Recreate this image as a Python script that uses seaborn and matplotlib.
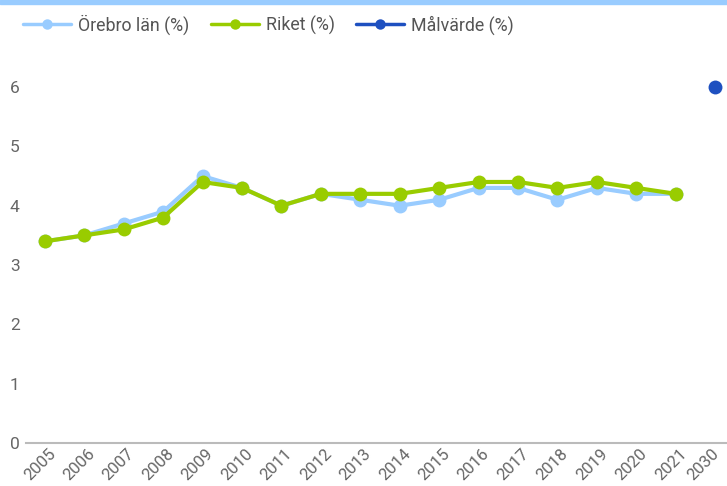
import pandas as pd
import matplotlib
matplotlib.use('Agg')
import matplotlib.pyplot as plt
import matplotlib.transforms as mtransforms
from matplotlib.patches import Rectangle
import seaborn as sns

# Data
years = ['2005', '2006', '2007', '2008', '2009', '2010', '2011', '2012', '2013',
         '2014', '2015', '2016', '2017', '2018', '2019', '2020', '2021']
orebro = [3.4, 3.5, 3.7, 3.9, 4.5, 4.3, 4.0, 4.2, 4.1,
          4.0, 4.1, 4.3, 4.3, 4.1, 4.3, 4.2, 4.2]
riket = [3.4, 3.5, 3.6, 3.8, 4.4, 4.3, 4.0, 4.2, 4.2,
         4.2, 4.3, 4.4, 4.4, 4.3, 4.4, 4.3, 4.2]
target_years = ['2030']
target = [6]

C_OREBRO = '#99ccff'
C_RIKET = '#99cc00'
C_TARGET = '#1e50c0'

sns.set_theme(style='white')
plt.rcParams['font.family'] = ['Roboto', 'DejaVu Sans']

fig = plt.figure(figsize=(7.27, 4.86), dpi=100)
ax = fig.add_axes([26 / 727, 43 / 486, 1 - 26 / 727, 385.6 / 486])

df_o = pd.DataFrame({'year': years, 'value': orebro})
df_r = pd.DataFrame({'year': years, 'value': riket})
df_t = pd.DataFrame({'year': target_years, 'value': target})

sns.lineplot(data=df_o, x='year', y='value', ax=ax, color=C_OREBRO, lw=3,
             marker='o', markersize=10, markeredgewidth=0, label='Örebro län (%)')
sns.lineplot(data=df_r, x='year', y='value', ax=ax, color=C_RIKET, lw=3,
             marker='o', markersize=10, markeredgewidth=0, label='Riket (%)')
sns.lineplot(data=df_t, x='year', y='value', ax=ax, color=C_TARGET, lw=3,
             marker='o', markersize=10, markeredgewidth=0, label='Målvärde (%)')

ax.set_xlim(-0.48, 17.3)
ax.set_ylim(0, 6.5)
ax.set_yticks([0, 1, 2, 3, 4, 5, 6])
ax.set_xlabel('')
ax.set_ylabel('')
for s in ['top', 'right', 'left']:
    ax.spines[s].set_visible(False)
ax.spines['bottom'].set_color('#bbbbbb')
ax.spines['bottom'].set_linewidth(1.5)
ax.tick_params(axis='both', length=0, colors='#666666', labelsize=12.5)
ax.tick_params(axis='y', pad=4.5)
ax.tick_params(axis='x', pad=2, labelsize=12)
xlabels = ax.get_xticklabels()
for i, lab in enumerate(xlabels):
    dx = 3 if i < len(xlabels) - 1 else -4  # keep the last one inside the canvas
    shift = mtransforms.ScaledTranslation(dx / 100, 0, fig.dpi_scale_trans)
    lab.set_rotation(45)
    lab.set_ha('right')
    lab.set_rotation_mode('anchor')
    lab.set_transform(lab.get_transform() + shift)

leg = ax.legend(loc='center left', bbox_to_anchor=(23 / 727, 1 - 24.5 / 486),
                bbox_transform=fig.transFigure, ncol=3, frameon=False,
                fontsize=12.8, handlelength=2.7, columnspacing=1.2,
                handletextpad=0.4, borderaxespad=0, borderpad=0,
                markerscale=0.75)
for t in leg.get_texts():
    t.set_color('#555555')
for h in leg.legend_handles:
    h.set_linewidth(2.5)

# light blue strip along the top edge
fig.patches.append(Rectangle((0, 1 - 4 / 486), 1, 4 / 486, transform=fig.transFigure,
                             color=C_OREBRO, zorder=0))

fig.savefig('out.png', dpi=100)
